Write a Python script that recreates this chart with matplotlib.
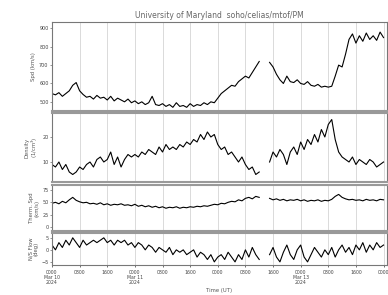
import numpy as np
import matplotlib
matplotlib.use("Agg")
import matplotlib.pyplot as plt

nan = np.nan
hours = np.arange(0, 97)

speed = [545,538,550,530,545,560,590,605,560,540,525,530,515,535,520,525,510,530,505,520,
         510,500,515,495,505,490,500,485,495,530,485,480,490,475,485,470,495,475,480,470,
         490,475,485,480,495,485,500,495,520,545,560,575,590,585,610,625,640,630,660,690,
         720,nan,nan,715,690,650,620,600,640,610,605,620,600,595,610,590,585,595,580,585,
         580,585,640,700,690,760,840,870,820,860,830,875,840,860,835,880,850]

density = [9,8,10,7,9,6,5,6,8,7,9,10,8,11,12,10,11,14,9,12,
           8,11,13,12,13,12,14,13,15,14,13,16,14,17,15,16,15,17,16,18,
           17,19,18,21,19,22,20,21,17,15,16,13,14,12,10,12,9,7,8,5,
           6,nan,nan,10,14,12,15,13,9,14,16,13,18,15,19,17,21,18,23,20,
           25,27,19,14,12,11,10,12,9,11,10,9,11,10,8,9,10]

vth = [48,50,47,52,49,55,60,54,51,49,50,47,48,46,49,45,47,44,46,45,
       47,44,45,43,46,42,44,41,43,40,42,39,41,38,40,39,41,38,40,39,
       41,40,42,41,43,42,44,46,45,48,47,50,52,51,55,53,58,60,57,62,
       60,nan,nan,58,55,57,54,56,53,55,54,56,53,55,52,54,53,55,52,54,
       53,56,62,66,60,57,55,56,54,55,53,56,54,55,53,56,55]

nsflow = [2,0,3,1,4,2,5,3,1,4,2,3,4,3,4,5,3,4,2,4,
          3,4,2,3,1,3,2,0,2,1,-1,1,0,-1,1,-2,0,-1,0,-2,
          -1,0,-3,-1,-2,-4,-2,-5,-3,-2,-4,-1,-3,-5,-2,-4,0,-3,1,-2,
          -4,nan,nan,-2,1,-3,-5,-1,2,-2,-4,0,2,-3,-5,-2,1,-1,-3,0,
          -2,1,-3,0,2,-1,1,-2,2,0,3,-1,2,0,3,1,2]

tick_hours = [0, 8, 16, 24, 32, 40, 48, 56, 64, 72, 80, 88, 96]
tick_labels = ["0000\nMar 10\n2024", "0800", "1600", "0000\nMar 11\n2024", "0800", "1600",
               "0000", "0800", "1600", "0000\nMar 13\n2024", "0800", "1600", "0000"]

title = "University of Maryland  soho/celias/mtof/PM"
xlabel = "Time (UT)"

panels = [
    (speed, "Spd (km/s)", (450, 935), [500, 600, 700, 800, 900]),
    (density, "Density\n(1/cm$^3$)", (2, 29.6), [10, 20]),
    (vth, "Therm. Spd\n(km/s)", (-8, 85), [0, 25, 50, 75]),
    (nsflow, "N/S Flow\n(deg)", (-6.3, 7), [-5, 0, 5]),
]

fig = plt.figure(figsize=(3.88, 2.95), dpi=100)
rects = [(22, 111), (113, 182), (185, 231), (233, 265)]
left = 52 / 388
width = 335 / 388
axes = []
for (top, bot), (vals, lab, ylim, yt) in zip(rects, panels):
    ax = fig.add_axes([left, 1 - bot / 295, width, (bot - top) / 295])
    ax.plot(hours, vals, color="black", lw=0.8)
    ax.set_xlim(0, 97)
    ax.set_ylim(*ylim)
    ax.set_yticks(yt)
    ax.tick_params(axis="y", labelsize=3.5, length=1.5, width=0.4, pad=1, colors="#444444")
    ax.set_ylabel(lab, fontsize=3.8, color="#555555", labelpad=2, linespacing=1.0)
    ax.set_xticks(tick_hours)
    for t in tick_hours:
        ax.axvline(t, color="#cccccc", lw=0.5, zorder=0)
    for s in ax.spines.values():
        s.set_color("#777777")
        s.set_linewidth(0.8)
    axes.append(ax)

for ax in axes[:-1]:
    ax.tick_params(axis="x", labelbottom=False, length=0)
    ax.spines["bottom"].set_linewidth(1.5)
    ax.spines["bottom"].set_color("#999999")
for ax in axes[1:]:
    ax.spines["top"].set_linewidth(1.5)
    ax.spines["top"].set_color("#999999")

axes[-1].set_xticklabels(tick_labels, fontsize=3.3, color="#444444", linespacing=1.0)
axes[-1].tick_params(axis="x", length=1.5, width=0.4, pad=2)
axes[-1].set_xlabel(xlabel, fontsize=3.8, color="#555555", labelpad=2)
axes[0].set_title(title, fontsize=5.5, color="#666666", pad=3)

fig.savefig("out.png", dpi=100)
